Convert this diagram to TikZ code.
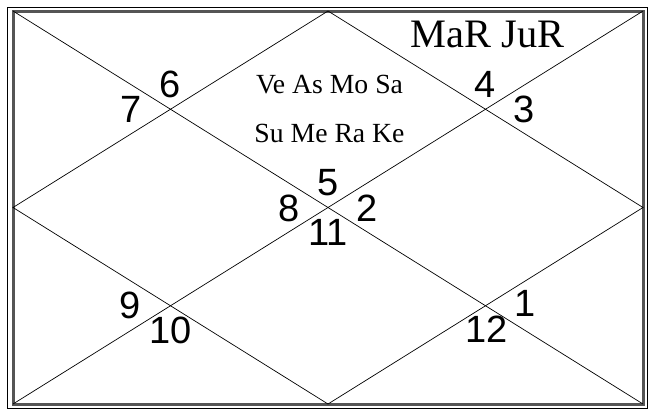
\documentclass[tikz,border=0pt]{standalone}
\usepackage{fontspec}
\setmainfont{Liberation Serif}
\newfontfamily\numfont{Liberation Sans}
\usetikzlibrary{calc}
\definecolor{chartframe}{HTML}{555555}

\begin{document}
\begin{tikzpicture}[x=1pt, y=-1pt,
    housenum/.style={font=\numfont\fontsize{38}{42}\selectfont, inner sep=0pt},
    planets/.style={font=\fontsize{27.7}{32}\selectfont, inner sep=0pt, anchor=base}]
  \useasboundingbox (0,0) rectangle (655,410);
  % frame
  \draw[black, line width=0.8pt] (7.5,7.5) rectangle (647.5,408.5);
  \draw[chartframe, line width=3pt] (13,11) rectangle (643,404);
  \coordinate (tl) at (13,11);
  \coordinate (tr) at (643,11);
  \coordinate (br) at (643,404);
  \coordinate (bl) at (13,404);
  \coordinate (mt) at ($(tl)!0.5!(tr)$);
  \coordinate (mr) at ($(tr)!0.5!(br)$);
  \coordinate (mb) at ($(bl)!0.5!(br)$);
  \coordinate (ml) at ($(tl)!0.5!(bl)$);
  \draw[line width=0.7pt] (tl) -- (br);
  \draw[line width=0.7pt] (tr) -- (bl);
  \draw[line width=0.7pt] (mt) -- (mr) -- (mb) -- (ml) -- cycle;
  % crossings
  \coordinate (cul) at ($(tl)!0.25!(br)$);
  \coordinate (cur) at ($(tr)!0.25!(bl)$);
  \coordinate (cc) at ($(tl)!0.5!(br)$);
  \coordinate (cll) at ($(bl)!0.25!(tr)$);
  \coordinate (clr) at ($(br)!0.25!(tl)$);
  % house numbers
  \node[housenum] (h6) at ($(cul)+(0,-25)$) {6};
  \node[housenum] (h7) at ($(cul)+(-39,0)$) {7};
  \node[housenum] (h4) at ($(cur)+(0,-25)$) {4};
  \node[housenum] (h3) at ($(cur)+(39,0)$) {3};
  \node[housenum] (h5) at ($(cc)+(0,-25)$) {5};
  \node[housenum] (h8) at ($(cc)+(-39,1)$) {8};
  \node[housenum] (h2) at ($(cc)+(39,1)$) {2};
  \node[housenum] (h11) at ($(cc)+(0,25)$) {11};
  \node[housenum] (h9) at ($(cll)+(-40,0)$) {9};
  \node[housenum] (h10) at ($(cll)+(0,25)$) {10};
  \node[housenum] (h1) at ($(clr)+(40,-2)$) {1};
  \node[housenum] (h12) at ($(clr)+(1,23)$) {12};
  % planets
  \node[planets] (p5a) at (329.5,93) {Ve As Mo Sa};
  \node[planets] (p5b) at (329.5,142) {Su Me Ra Ke};
  \node[planets, font=\fontsize{40.4}{44}\selectfont] (p4) at (487.5,47) {MaR JuR};
\end{tikzpicture}
\end{document}
